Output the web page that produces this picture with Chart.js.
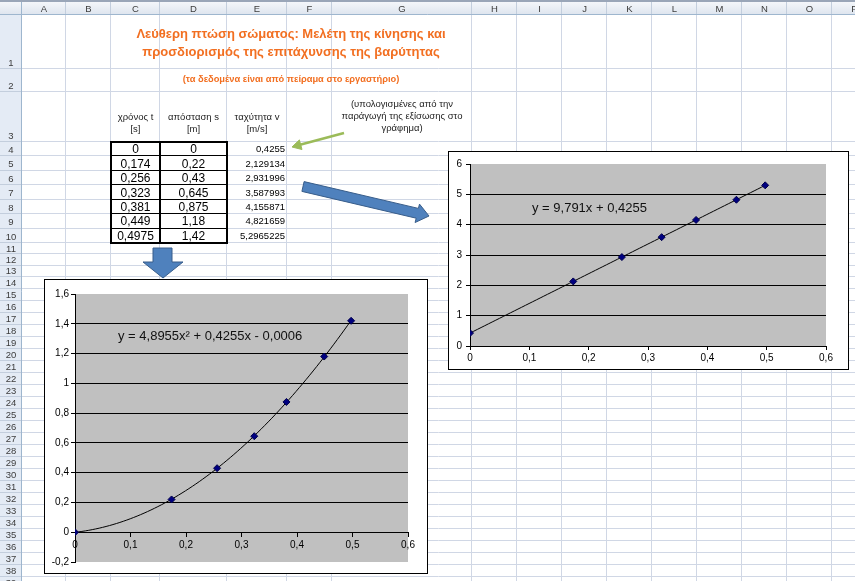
<!DOCTYPE html>
<html><head><meta charset="utf-8">
<title>Ελεύθερη πτώση σώματος</title>
<script src="https://cdn.jsdelivr.net/npm/chart.js@4.4.1/dist/chart.umd.min.js"></script>
<style>
html,body{margin:0;padding:0;width:855px;height:581px;overflow:hidden;background:#fff;font-family:"Liberation Sans",Arial,sans-serif;}
.abs{position:absolute}
.tx{position:absolute;white-space:nowrap;line-height:1;}
.box{position:absolute;background:#fff;border:1px solid #000;box-sizing:border-box}
.box canvas{display:block}
</style></head><body>
<canvas id="sheet" class="abs" width="855" height="581" style="left:0;top:0"></canvas>
<div id="texts"></div>
<div class="box" style="left:448px;top:151px;width:401px;height:219px"><canvas id="cv" width="399" height="217"></canvas></div>
<div class="box" style="left:44px;top:279px;width:384px;height:295px"><canvas id="cs" width="382" height="293"></canvas></div>
<svg class="abs" style="left:0;top:0" width="855" height="581">
  <polygon points="153,248 172,248 172,262 183,262 163,278 143,262 153,262" fill="#4f81bd" stroke="#385d8a" stroke-width="1"/>
  <polygon points="304.1,181.6 418.4,208.4 419.5,204.1 429,216 415.1,222.5 416.2,218.2 301.9,191.4" fill="#4f81bd" stroke="#385d8a" stroke-width="1"/>
  <line x1="344" y1="133" x2="300" y2="144.8" stroke="#9bbb59" stroke-width="2.5"/>
  <polygon points="292,147 299.4,139.9 302,149.5" fill="#9bbb59" stroke="#9bbb59" stroke-width="1"/>
</svg>
<script>
// ---------- data ----------
const timeT  = [0, 0.174, 0.256, 0.323, 0.381, 0.449, 0.4975];
const distS  = [0, 0.22, 0.43, 0.645, 0.875, 1.18, 1.42];
const speedV = [0.4255, 2.129134, 2.931996, 3.587993, 4.155871, 4.821659, 5.2965225];
const quadCoef = [4.8955, 0.4255, -0.0006];   // s = a t^2 + b t + c
const linCoef  = [9.791, 0.4255];             // v = a t + b
const quadText = "y = 4,8955x\u00B2 + 0,4255x - 0,0006";
const linText  = "y = 9,791x + 0,4255";
const xTickRange = [0, 0.6, 0.1];
const sTickRange = [-0.2, 1.6, 0.2];
const vTickRange = [0, 6, 1];
const titleLines = ["Λεύθερη πτώση σώματος: Μελέτη της κίνησης και", "προσδιορισμός της επιτάχυνσης της βαρύτητας"];
const subTitle = "(τα δεδομένα είναι από πείραμα στο εργαστήριο)";
const headC = ["χρόνος t", "[s]"], headD = ["απόσταση s", "[m]"], headE = ["ταχύτητα v", "[m/s]"];
const noteG = ["(υπολογισμένες από την", "παράγωγή της εξίσωσης στο", "γράφημα)"];
const colNames = ['A','B','C','D','E','F','G','H','I','J','K','L','M','N','O','P'];

const comma = v => String(v).replace('.', ',');
const fmt = v => comma(Math.round(v * 100) / 100);

// ---------- sheet layout ----------
const colEdges = [22,66,111,160,227,287,332,472,517,562,607,652,697,742,787,832,877];
const rowEdges = [15,69,92,142];
for (let i = 1; i <= 7; i++) rowEdges.push(142 + i * (101 / 7));
for (let i = 1; i <= 3; i++) rowEdges.push(243 + i * (34 / 3));
while (rowEdges[rowEdges.length - 1] < 600) rowEdges.push(rowEdges[rowEdges.length - 1] + 12);

const sc = document.getElementById('sheet').getContext('2d');
sc.fillStyle = '#fff'; sc.fillRect(0, 0, 855, 581);
sc.strokeStyle = '#d0d7e5'; sc.lineWidth = 1;
colEdges.forEach(x => { sc.beginPath(); sc.moveTo(Math.round(x) - 0.5, 15); sc.lineTo(Math.round(x) - 0.5, 581); sc.stroke(); });
rowEdges.forEach(y => { sc.beginPath(); sc.moveTo(22, Math.round(y) - 0.5); sc.lineTo(855, Math.round(y) - 0.5); sc.stroke(); });
// headers
const g = sc.createLinearGradient(0, 1, 0, 15); g.addColorStop(0, '#f6f8fb'); g.addColorStop(1, '#dde4ee');
sc.fillStyle = '#9aa6b8'; sc.fillRect(0, 0, 855, 2);
sc.fillStyle = g; sc.fillRect(0, 2, 855, 13);
sc.fillStyle = '#e4ebf5'; sc.fillRect(0, 15, 22, 566);
sc.strokeStyle = '#c3cedd';
colEdges.forEach(x => { sc.beginPath(); sc.moveTo(Math.round(x) - 0.5, 2); sc.lineTo(Math.round(x) - 0.5, 15); sc.stroke(); });
rowEdges.forEach(y => { sc.beginPath(); sc.moveTo(0, Math.round(y) - 0.5); sc.lineTo(22, Math.round(y) - 0.5); sc.stroke(); });
sc.strokeStyle = '#9eb6ce';
sc.beginPath(); sc.moveTo(0, 14.5); sc.lineTo(855, 14.5); sc.stroke();
sc.beginPath(); sc.moveTo(21.5, 2); sc.lineTo(21.5, 581); sc.stroke();
// data table borders
sc.strokeStyle = '#000'; sc.lineWidth = 1;
for (let r = 4; r < 10; r++) { const y = Math.round(rowEdges[r]) - 0.5; sc.beginPath(); sc.moveTo(111, y); sc.lineTo(227, y); sc.stroke(); }
sc.lineWidth = 2;
sc.strokeRect(111, 142, 116, 101);
sc.beginPath(); sc.moveTo(160, 142); sc.lineTo(160, 243); sc.stroke();

// ---------- texts ----------
const host = document.getElementById('texts');
function T(str, x, y, style, align) {
  const d = document.createElement('div');
  d.className = 'tx'; d.textContent = str; d.style.cssText += style;
  d.style.left = x + 'px'; d.style.top = y + 'px';
  const tx = align === 'c' ? '-50%' : align === 'r' ? '-100%' : '0';
  d.style.transform = `translate(${tx},-50%)`;
  host.appendChild(d);
}
const hdr = 'font-size:9.5px;color:#3c3c3c;';
colNames.forEach((n, i) => T(n, (colEdges[i] + colEdges[i + 1]) / 2, 9, hdr, 'c'));
for (let r = 1; r < rowEdges.length; r++) {
  const top = rowEdges[r - 1], bot = rowEdges[r];
  if (top > 581) break;
  T(String(r), 11, bot - Math.min((bot - top) / 2, 6.5), hdr, 'c');
}
const orange = 'color:#f26f21;font-weight:bold;';
T(titleLines[0], 291, 33, orange + 'font-size:13px;', 'c');
T(titleLines[1], 291, 51, orange + 'font-size:13px;', 'c');
T(subTitle, 291, 80, orange + 'font-size:9.3px;', 'c');
const small = 'font-size:9.5px;color:#222;';
[[headC, 135.5], [headD, 193.5], [headE, 257]].forEach(([h, x]) => { T(h[0], x, 117, small, 'c'); T(h[1], x, 128.5, small, 'c'); });
noteG.forEach((s, i) => T(s, 402, 104 + i * 12, small, 'c'));
timeT.forEach((t, i) => {
  const y = (rowEdges[3 + i] + rowEdges[4 + i]) / 2;
  T(comma(t), 135.5, y, 'font-size:12px;color:#000;', 'c');
  T(comma(distS[i]), 193.5, y, 'font-size:12px;color:#000;', 'c');
  T(comma(speedV[i]), 285, y, 'font-size:9.5px;color:#000;', 'r');
});

// ---------- charts ----------
const plotBg = {
  id: 'plotBg',
  beforeDraw(chart, args, o) {
    const a = chart.chartArea, c = chart.ctx;
    c.save(); c.fillStyle = o.color; c.fillRect(a.left, a.top, a.right - a.left, a.bottom - a.top); c.restore();
  }
};
const trend = {
  id: 'trend',
  beforeDatasetsDraw(chart, args, o) {
    const xs = chart.scales.x, ys = chart.scales.y, c = chart.ctx, n = 80;
    c.save(); c.strokeStyle = '#000'; c.lineWidth = 1; c.beginPath();
    for (let i = 0; i <= n; i++) {
      const x = o.from + (o.to - o.from) * i / n;
      let y = 0; o.coef.forEach((k, j) => { y += k * Math.pow(x, o.coef.length - 1 - j); });
      const px = xs.getPixelForValue(x), py = ys.getPixelForValue(y);
      if (i) c.lineTo(px, py); else c.moveTo(px, py);
    }
    c.stroke(); c.restore();
  }
};
const eqLabel = {
  id: 'eqLabel',
  afterDatasetsDraw(chart, args, o) {
    const c = chart.ctx, a = chart.chartArea;
    c.save(); c.font = '13px "Liberation Sans", Arial, sans-serif'; c.fillStyle = '#111';
    c.textAlign = 'left'; c.textBaseline = 'middle';
    c.fillText(o.text, a.left + o.dx, a.top + o.dy); c.restore();
  }
};

function makeChart(id, xs, ys, xr, yr, coef, text, lay) {
  const near = (a, b) => Math.abs(a - b) < 1e-9;
  return new Chart(document.getElementById(id), {
    type: 'scatter',
    data: { datasets: [{
      data: xs.map((x, i) => ({ x, y: ys[i] })),
      pointStyle: 'rectRot', pointRadius: 3.5, pointHoverRadius: 3.5,
      backgroundColor: '#000080', borderColor: '#00004a', borderWidth: 1, showLine: false
    }] },
    options: {
      responsive: false, animation: false, devicePixelRatio: 1,
      layout: { padding: { left: 0, top: lay.top, right: lay.right, bottom: lay.bottom } },
      plugins: {
        legend: { display: false }, tooltip: { enabled: false },
        plotBg: { color: '#c0c0c0' },
        trend: { coef, from: xs[0], to: xs[xs.length - 1] },
        eqLabel: { text, dx: lay.eqx, dy: lay.eqy }
      },
      scales: {
        x: {
          type: 'linear', min: xr[0], max: xr[1], position: lay.xpos,
          afterFit: s => { if (lay.xh !== undefined) s.height = lay.xh; },
          ticks: { stepSize: xr[2], callback: fmt, color: '#000', padding: lay.xpad, maxRotation: 0,
                   font: { family: '"Liberation Sans", Arial, sans-serif', size: 10 } },
          grid: { drawOnChartArea: false, drawTicks: true, tickLength: 4, tickColor: '#000' },
          border: { display: true, color: '#000', width: 1 }
        },
        y: {
          type: 'linear', min: yr[0], max: yr[1], position: 'left',
          afterFit: s => { s.width = lay.yw; },
          ticks: { stepSize: yr[2], callback: fmt, color: '#000', padding: lay.ypad,
                   font: { family: '"Liberation Sans", Arial, sans-serif', size: 10 } },
          grid: {
            color: c => (c.tick && (near(c.tick.value, yr[0]) || near(c.tick.value, yr[1]))) ? 'rgba(0,0,0,0)' : '#000',
            lineWidth: 1, drawTicks: true, tickLength: 4, tickColor: '#000'
          },
          border: { display: true, color: '#000', width: 1 }
        }
      }
    },
    plugins: [plotBg, trend, eqLabel]
  });
}

makeChart('cv', timeT, speedV, xTickRange, vTickRange, linCoef, linText,
  { top: 12, right: 22, bottom: 0, xh: 23, yw: 21, xpos: 'bottom', xpad: 2, ypad: 4, eqx: 62, eqy: 44 });
makeChart('cs', timeT, distS, xTickRange, sTickRange, quadCoef, quadText,
  { top: 14, right: 19, bottom: 11, yw: 30, xpos: { y: 0 }, xpad: 3, ypad: 2, eqx: 43, eqy: 42 });
</script>
</body></html>
